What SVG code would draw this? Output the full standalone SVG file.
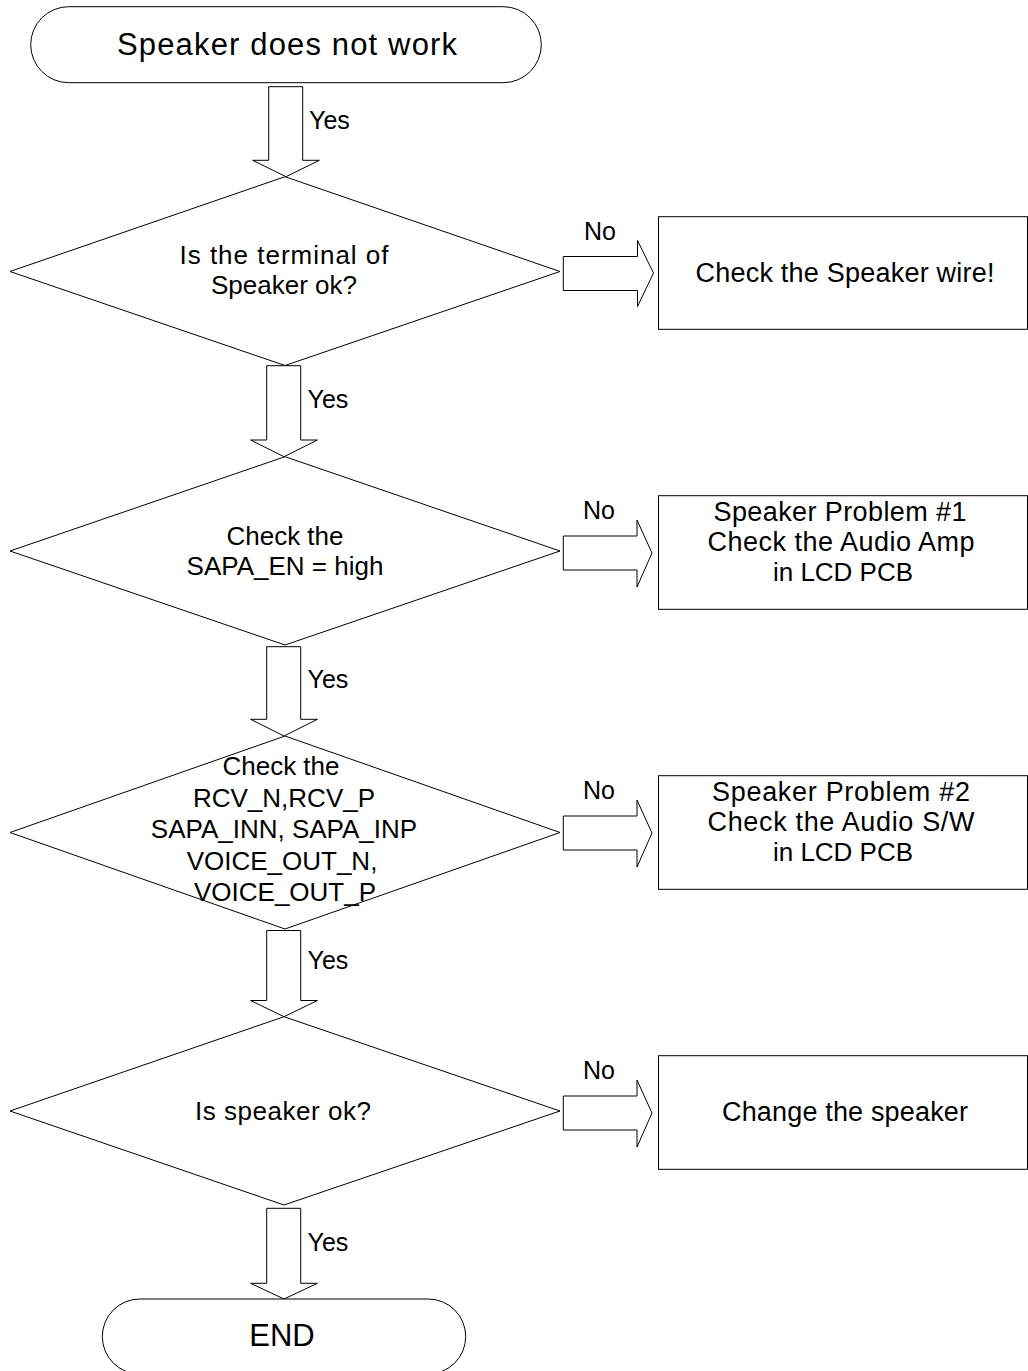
<svg xmlns="http://www.w3.org/2000/svg" width="1028" height="1371" viewBox="0 0 1028 1371">
<style>
.s{fill:#fff;stroke:#000;stroke-width:1}
.t{font-family:"Liberation Sans",Arial,sans-serif;font-size:26px;fill:#000;text-anchor:middle}
.b{font-size:27px}
.l{font-family:"Liberation Sans",Arial,sans-serif;font-size:25px;fill:#000}
.big{font-size:31px}
</style>
<rect width="1028" height="1371" fill="#fff"/>
<g id="connectors">
<polygon class="s" points="268.7,86.7 302.7,86.7 302.7,160.3 319.4,160.3 286,176.7 252.6,160.3 268.7,160.3"/>
<polygon class="s" points="266.7,365.7 300.7,365.7 300.7,440 317.4,440 284,456.7 250.6,440 266.7,440"/>
<polygon class="s" points="266.7,646.7 300.7,646.7 300.7,719.3 317.4,719.3 284,736 250.6,719.3 266.7,719.3"/>
<polygon class="s" points="266.7,930.5 300.7,930.5 300.7,1000.5 317.4,1000.5 284,1016.7 250.6,1000.5 266.7,1000.5"/>
<polygon class="s" points="266.7,1208.3 300.7,1208.3 300.7,1283.3 317.4,1283.3 284,1299 250.6,1283.3 266.7,1283.3"/>
<polygon class="s" points="563.3,256.5 637.5,256.5 637.5,240.5 653.5,273 637.5,306.5 637.5,290.5 563.3,290.5"/>
<polygon class="s" points="563.3,536 637,536 637,520 652,553 637,587 637,570 563.3,570"/>
<polygon class="s" points="563.3,816 637,816 637,800 652,833 637,867 637,850 563.3,850"/>
<polygon class="s" points="563.3,1096 637,1096 637,1080 652,1113 637,1147 637,1130 563.3,1130"/>
<text class="l" x="309" y="129">Yes</text>
<text class="l" x="307.5" y="408.3">Yes</text>
<text class="l" x="307.5" y="688.3">Yes</text>
<text class="l" x="307.5" y="968.5">Yes</text>
<text class="l" x="307.5" y="1250.7">Yes</text>
<text class="l" x="584" y="240">No</text>
<text class="l" x="583" y="519.3">No</text>
<text class="l" x="583" y="799.3">No</text>
<text class="l" x="583" y="1079.3">No</text>
</g>
<g id="start">
<rect class="s" x="30.7" y="6.7" width="510.6" height="76" rx="38" ry="38"/>
<text class="t big" x="287" y="55" textLength="340">Speaker does not work</text>
</g>
<g id="d1">
<polygon class="s" points="285,176.7 560,271.5 285,365.5 10,271.5"/>
<text class="t" x="284" y="264" textLength="209">Is the terminal of</text>
<text class="t" x="284" y="294">Speaker ok?</text>
</g>
<g id="b1">
<rect class="s" x="658.5" y="216.7" width="369" height="112.6"/>
<text class="t b" x="845" y="281.7" textLength="299">Check the Speaker wire!</text>
</g>
<g id="d2">
<polygon class="s" points="285,456.7 560,551 285,645 10,551"/>
<text class="t" x="285" y="545">Check the</text>
<text class="t" x="285" y="575">SAPA_EN = high</text>
</g>
<g id="b2">
<rect class="s" x="658.5" y="495.7" width="369" height="113.6"/>
<text class="t b" x="840" y="521" textLength="253">Speaker Problem #1</text>
<text class="t b" x="841" y="551" textLength="267">Check the Audio Amp</text>
<text class="t" x="843" y="581">in LCD PCB</text>
</g>
<g id="d3">
<polygon class="s" points="285,736 560,832.5 285,929 10,832.5"/>
<text class="t" x="281" y="775">Check the</text>
<text class="t" x="284" y="806.5">RCV_N,RCV_P</text>
<text class="t" x="284" y="838">SAPA_INN, SAPA_INP</text>
<text class="t" x="282" y="869.5">VOICE_OUT_N,</text>
<text class="t" x="285" y="901">VOICE_OUT_P</text>
</g>
<g id="b3">
<rect class="s" x="658.5" y="775.7" width="369" height="113.6"/>
<text class="t b" x="841" y="801" textLength="258">Speaker Problem #2</text>
<text class="t b" x="841" y="831" textLength="267">Check the Audio S/W</text>
<text class="t" x="843" y="861">in LCD PCB</text>
</g>
<g id="d4">
<polygon class="s" points="284,1016.7 560,1111 284,1205 10,1111"/>
<text class="t" x="283" y="1120" textLength="176">Is speaker ok?</text>
</g>
<g id="b4">
<rect class="s" x="658.5" y="1055.7" width="369" height="113.6"/>
<text class="t b" x="845" y="1121" textLength="246">Change the speaker</text>
</g>
<g id="end">
<rect class="s" x="102.3" y="1299" width="363.4" height="75" rx="37.5" ry="37.5"/>
<text class="t big" x="282" y="1346">END</text>
</g>
</svg>
